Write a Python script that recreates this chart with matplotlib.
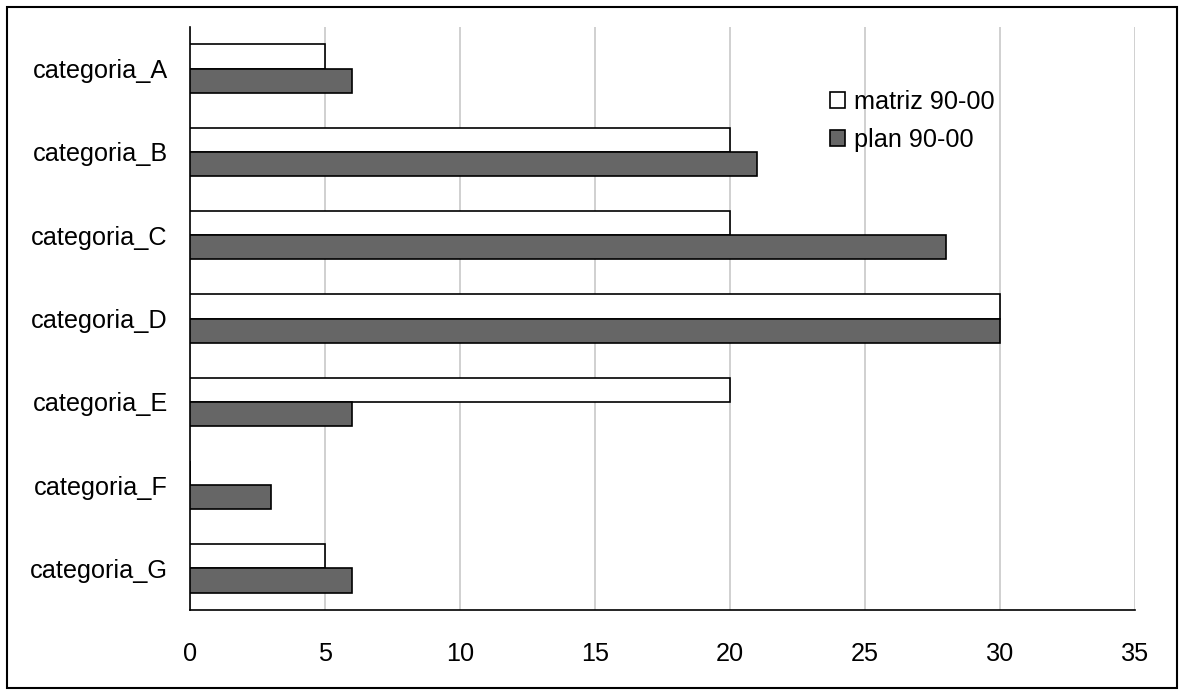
import numpy as np
import matplotlib.pyplot as plt
from matplotlib.patches import Rectangle

categorii = ["categoria_A", "categoria_B", "categoria_C", "categoria_D",
             "categoria_E", "categoria_F", "categoria_G"]
matriz = [5, 20, 20, 30, 20, 0, 5]
plan = [6, 21, 28, 30, 6, 3, 6]
xticks = [0, 5, 10, 15, 20, 25, 30, 35]

plt.rcParams['font.family'] = ['Liberation Sans', 'DejaVu Sans']

W, H = 1184, 695
fig = plt.figure(figsize=(W / 100, H / 100), dpi=100)
ax = fig.add_axes([190 / W, 1 - 610 / H, (1135 - 190) / W, (610 - 27) / H])

y = np.arange(len(categorii))
h = 0.29
ax.barh(y - h / 2, matriz, height=h, color="white", edgecolor="black",
        linewidth=1.2, label="matriz 90-00", zorder=3)
ax.barh(y + h / 2, plan, height=h, color="#666666", edgecolor="black",
        linewidth=1.2, label="plan 90-00", zorder=3)

ax.set_xlim(0, 35)
ax.set_ylim(len(categorii) - 0.5, -0.5)
ax.set_xticks(xticks)
ax.set_yticks(y)
ax.set_yticklabels(categorii)
ax.tick_params(axis="both", length=0, labelsize=18.2)
ax.tick_params(axis="x", pad=23)
ax.tick_params(axis="y", pad=16)
ax.grid(axis="x", color="#c8c8c8", linewidth=1.2, zorder=0)
ax.set_axisbelow(True)
for s in ["top", "right"]:
    ax.spines[s].set_visible(False)
for s in ["left", "bottom"]:
    ax.spines[s].set_linewidth(1.2)

fig.legend(loc="upper left", bbox_to_anchor=(830 / W, 1 - 90 / H),
           frameon=False, fontsize=18.2, borderpad=0, borderaxespad=0,
           handlelength=0.6, handleheight=0.6, handletextpad=0.35,
           labelspacing=0.55)

fig.patches.append(Rectangle((7 / W, 7 / H), (1177 - 7) / W, (688 - 7) / H,
                             transform=fig.transFigure, fill=False,
                             edgecolor="black", linewidth=1.5))

fig.savefig("out.png", dpi=100)
